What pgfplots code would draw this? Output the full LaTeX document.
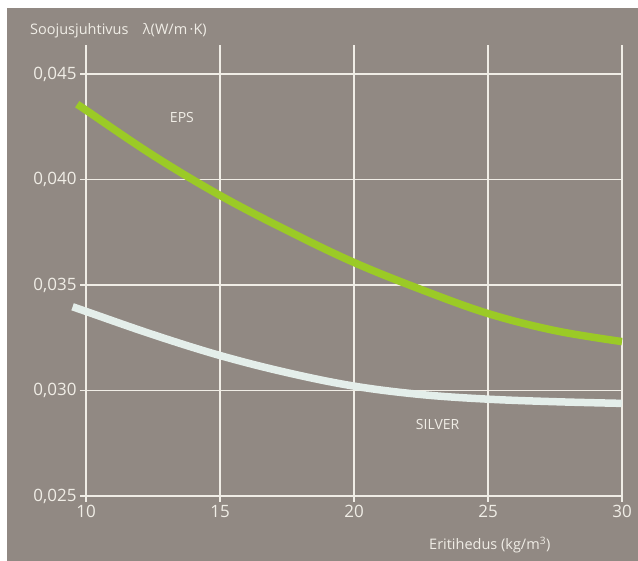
\documentclass[border=0pt]{standalone}
\usepackage{fontspec}
\setmainfont{Open Sans}
\usepackage{pgfplots}
\pgfplotsset{compat=1.18}
\definecolor{bg}{RGB}{145,137,131}
\definecolor{gridc}{RGB}{240,237,230}
\definecolor{epsgreen}{RGB}{155,202,38}
\definecolor{silverc}{RGB}{228,238,234}
\begin{document}
\begin{tikzpicture}
\fill[white] (-86pt,-65pt) rectangle (552pt,496pt);
\fill[bg] (-79pt,-65pt) rectangle (552pt,488pt);
\begin{axis}[
  at={(0pt,0pt)}, anchor=south west,
  scale only axis, width=536pt, height=451pt,
  xmin=10, xmax=30, ymin=0.025, ymax=0.04638,
  xtick={10,15,20,25,30},
  ytick={0.025,0.030,0.035,0.040,0.045},
  yticklabels={{0,025},{0,030},{0,035},{0,040},{0,045}},
  scaled y ticks=false,
  /pgf/number format/assume math mode=true,
  grid=major,
  grid style={draw=gridc, line width=1.5pt},
  axis line style={draw=none},
  tick align=outside, tick pos=left,
  major tick length=6pt,
  tick style={draw=gridc, line width=1.5pt},
  tick label style={font=\fontsize{17}{20}\selectfont, text=gridc},
  clip=false,
]
\addplot[epsgreen, line width=7.5pt, line cap=butt, smooth, tension=0.6] coordinates {
 (9.7,0.04355) (10,0.04329) (12.5,0.04115) (15,0.03925) (17.5,0.03759)
 (20,0.03607) (22.5,0.03479) (25,0.03365) (27.5,0.03284) (30,0.03232)};
\addplot[silverc, line width=7.5pt, line cap=butt, smooth, tension=0.6] coordinates {
 (9.5,0.03397) (10,0.03375) (12.5,0.03265) (15,0.03166) (17.5,0.03085)
 (20,0.03021) (22.5,0.02981) (25,0.02959) (27.5,0.02947) (30,0.02939)};
\node[text=gridc, font=\fontsize{14}{17}\selectfont] at (axis cs:13.58,0.04296) {EPS};
\node[text=gridc, font=\fontsize{14}{17}\selectfont] at (axis cs:23.12,0.02838) {SILVER};
\end{axis}
\node[anchor=west, text=gridc, font=\fontsize{14.5}{17}\selectfont, inner sep=0pt] at (-56pt,465pt) {Soojusjuhtivus\quad λ(W/m\,·K)};
\node[anchor=west, text=gridc, font=\fontsize{14.5}{17}\selectfont, inner sep=0pt] at (343pt,-49pt) {Eritihedus (kg/m\textsuperscript{3})};
\end{tikzpicture}
\end{document}
